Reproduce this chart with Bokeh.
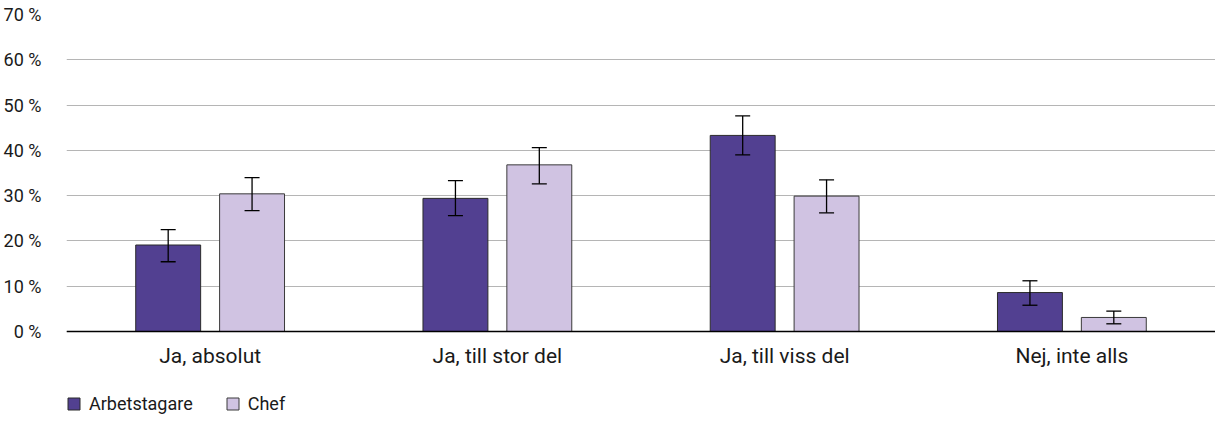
from bokeh.plotting import figure
from bokeh.models import (ColumnDataSource, FactorRange, Whisker, TeeHead, Legend,
                          LegendItem, FixedTicker, Range1d)
from bokeh.transform import dodge
from bokeh.embed import file_html
from bokeh.resources import INLINE

categories = ["Ja, absolut", "Ja, till stor del", "Ja, till viss del", "Nej, inte alls"]
series_names = ["Arbetstagare", "Chef"]
arbetstagare = [19.1, 29.4, 43.3, 8.6]
arbetstagare_lower = [15.4, 25.6, 39.0, 5.8]
arbetstagare_upper = [22.5, 33.3, 47.6, 11.2]
chef = [30.4, 36.8, 29.9, 3.1]
chef_lower = [26.7, 32.6, 26.2, 1.7]
chef_upper = [34.0, 40.6, 33.5, 4.5]
y_ticks = [0, 10, 20, 30, 40, 50, 60, 70]
y_tick_labels = ["0 %", "10 %", "20 %", "30 %", "40 %", "50 %", "60 %", "70 %"]

FONT = "Roboto"
TEXT = "#1a1a1a"
C_ARB = "#524091"
C_CHEF = "#d0c3e2"
L_ARB = "#2b2b2b"
L_CHEF = "#3a3a3a"

W, H = 1215, 414
TOP, ZERO = 14, 331          # pixel rows of 70 % and 0 %
px_per_unit = (ZERO - TOP) / 70.0
y_start = -(H - ZERO) / px_per_unit   # frame reaches the bottom; room for labels/legend

src_a = ColumnDataSource(dict(cat=categories, val=arbetstagare,
                              lo=arbetstagare_lower, hi=arbetstagare_upper))
src_c = ColumnDataSource(dict(cat=categories, val=chef, lo=chef_lower, hi=chef_upper))

p = figure(width=W, height=H, x_range=FactorRange(*categories),
           y_range=Range1d(y_start, 70),
           output_backend="svg", toolbar_location=None,
           min_border_left=66, min_border_right=0, min_border_top=TOP, min_border_bottom=0)
p.outline_line_color = None
p.background_fill_color = "white"

off = 0.146
bw = 0.226
ra = p.vbar(x=dodge("cat", -off, range=p.x_range), top="val", width=bw, source=src_a,
            fill_color=C_ARB, line_color=L_ARB, line_width=1)
rc = p.vbar(x=dodge("cat", off, range=p.x_range), top="val", width=bw, source=src_c,
            fill_color=C_CHEF, line_color=L_CHEF, line_width=1)

for src, o in ((src_a, -off), (src_c, off)):
    w = Whisker(base=dodge("cat", o, range=p.x_range), upper="hi", lower="lo", source=src,
                line_color="black", line_width=1.3, level="overlay",
                upper_head=TeeHead(size=15, line_color="black", line_width=1.3),
                lower_head=TeeHead(size=15, line_color="black", line_width=1.3))
    p.add_layout(w)

# grid
p.xgrid.grid_line_color = None
p.ygrid.ticker = FixedTicker(ticks=y_ticks)
p.ygrid.grid_line_color = "#b5b5b5"
p.ygrid.grid_line_width = 1.2

# y axis
p.yaxis.ticker = FixedTicker(ticks=y_ticks)
p.yaxis.major_label_overrides = {t: l for t, l in zip(y_ticks, y_tick_labels)}
p.yaxis.axis_line_color = None
p.yaxis.major_tick_line_color = None
p.yaxis.minor_tick_line_color = None
p.yaxis.major_label_standoff = 19
p.yaxis.major_label_text_font = FONT
p.yaxis.major_label_text_font_size = "18px"
p.yaxis.major_label_text_color = TEXT

# x axis, pinned at y = 0
p.xaxis.fixed_location = 0
p.xaxis.axis_line_color = "black"
p.xaxis.axis_line_width = 1.5
p.xaxis.major_tick_line_color = None
p.xaxis.minor_tick_line_color = None
p.xaxis.major_label_standoff = 6
p.xaxis.major_label_text_font = FONT
p.xaxis.major_label_text_font_size = "21px"
p.xaxis.major_label_text_color = TEXT

legend = Legend(items=[LegendItem(label=series_names[0], renderers=[ra]),
                       LegendItem(label=series_names[1], renderers=[rc])],
                location=(0, 0), orientation="horizontal",
                glyph_width=15, glyph_height=15, label_standoff=8, spacing=32,
                label_text_font=FONT, label_text_font_size="18px", label_text_color=TEXT,
                label_height=15, padding=0, margin=0,
                border_line_color=None, background_fill_alpha=0)
p.add_layout(legend, "center")

open("out.html", "w").write(file_html(p, INLINE))
